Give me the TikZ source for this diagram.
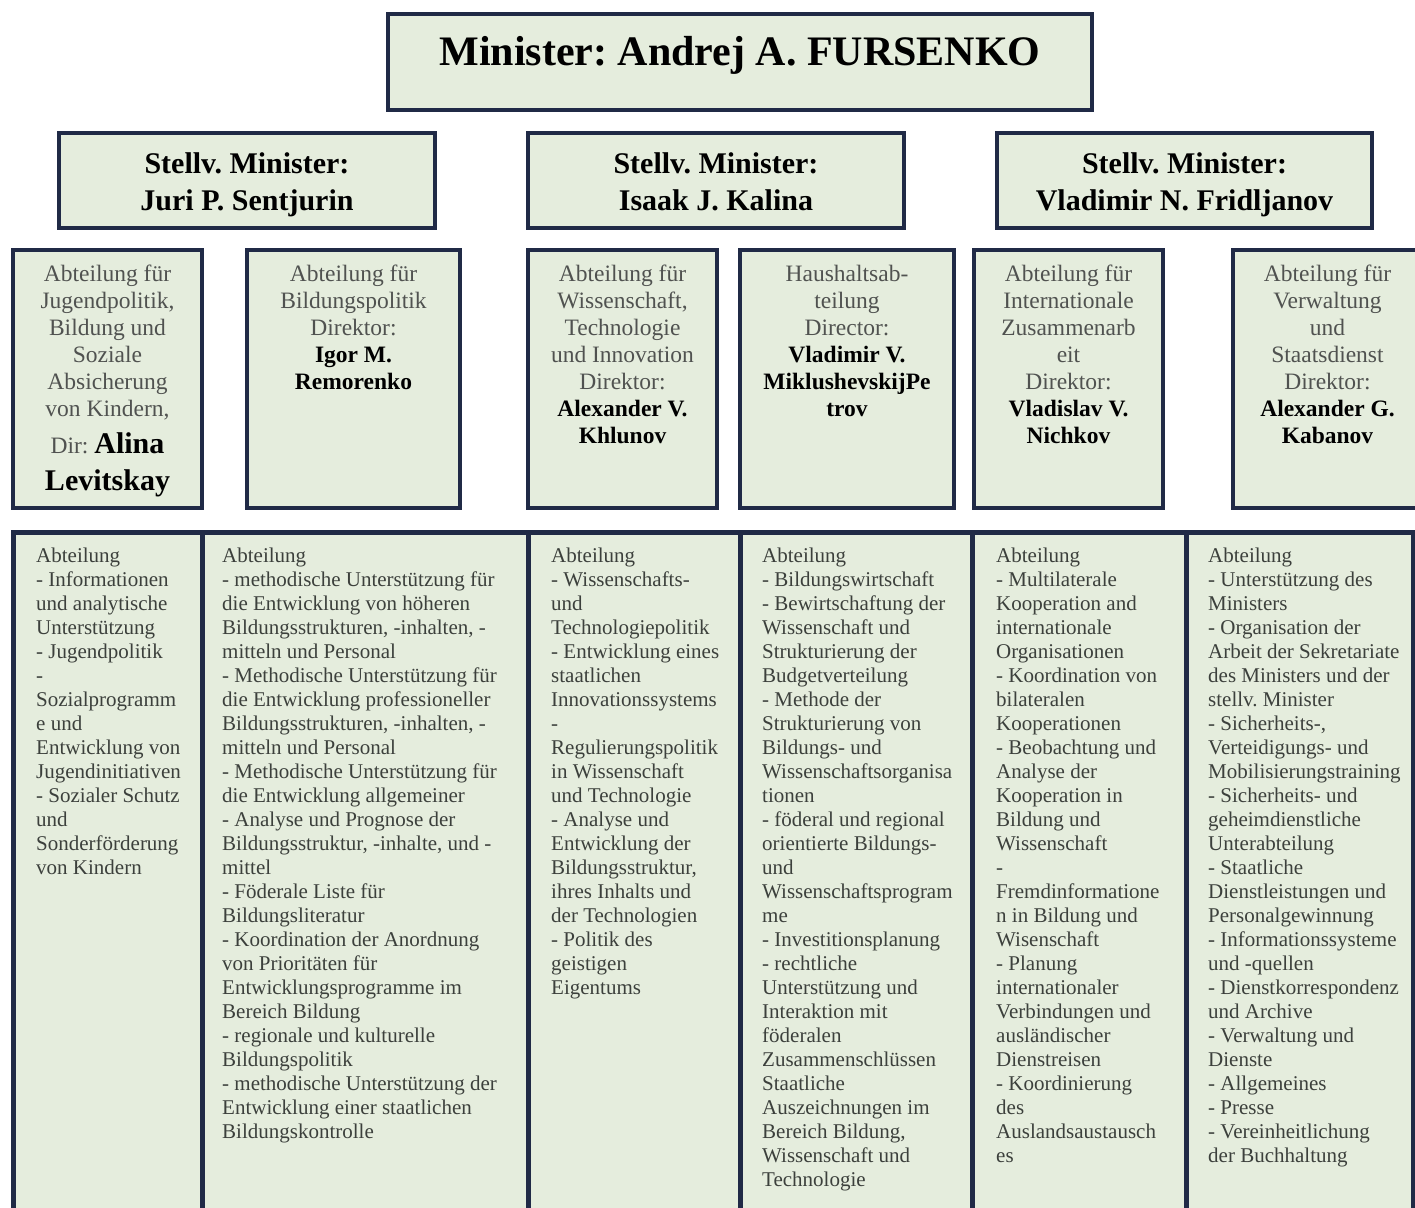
\documentclass[tikz,border=0pt]{standalone}
\usepackage{fontspec}
\setmainfont{Liberation Serif}
\definecolor{navy}{RGB}{32,42,70}
\definecolor{boxfill}{RGB}{229,237,221}
\definecolor{txtgray}{RGB}{80,82,80}
\definecolor{tabtxt}{RGB}{60,64,60}
\newcommand\boldname[1]{{\bfseries\color{black}#1}}
\tikzset{
  box/.style={draw=navy, line width=4.5pt, fill=boxfill, rectangle, inner sep=0pt, outer sep=0pt},
  cellbox/.style={draw=navy, line width=5pt, fill=boxfill, rectangle, inner sep=0pt, outer sep=0pt},
  mintxt/.style={font=\bfseries\fontsize{42}{48}\selectfont, inner sep=0pt, text=black},
  stelltxt/.style={align=center, inner sep=0pt, text=black, font=\bfseries\fontsize{30}{37}\selectfont},
  deptxt/.style={align=center, inner sep=0pt, text=txtgray, font=\fontsize{23.5}{27}\selectfont},
  tabletxt/.style={align=left, inner sep=0pt, text=tabtxt, font=\fontsize{21}{24}\selectfont, anchor=north west},
}
\begin{document}
\frenchspacing
\begin{tikzpicture}[x=1pt,y=-1pt]
\useasboundingbox (0,0) rectangle (1415,1207);
\clip (0,0) rectangle (1415,1207);
\fill[white] (0,0) rectangle (1415,1207);

% Minister
\node[box, minimum width=704, minimum height=96] (min) at (740,62) {};
\node[mintxt, anchor=base] (mint) at (740,66) {Minister: Andrej A. FURSENKO};

% Deputy ministers
\node[box, minimum width=376, minimum height=95] (s1) at (247,180.5) {};
\node[box, minimum width=376, minimum height=95] (s2) at (716,180.5) {};
\node[box, minimum width=375, minimum height=95] (s3) at (1184.5,180.5) {};
\node[stelltxt, anchor=north] (s1t) at (247,152) {Stellv. Minister:\\Juri P. Sentjurin};
\node[stelltxt, anchor=north] (s2t) at (716,152) {Stellv. Minister:\\Isaak J. Kalina};
\node[stelltxt, anchor=north] (s3t) at (1184.5,152) {Stellv. Minister:\\Vladimir N. Fridljanov};

% Departments
\node[box, minimum width=189, minimum height=258] (d1) at (107.5,379) {};
\node[box, minimum width=213, minimum height=258] (d2) at (353.5,379) {};
\node[box, minimum width=189, minimum height=258] (d3) at (622.5,379) {};
\node[box, minimum width=214, minimum height=258] (d4) at (847,379) {};
\node[box, minimum width=189, minimum height=258] (d5) at (1068.5,379) {};
\node[box, minimum width=189, minimum height=258] (d6) at (1327.5,379) {};

\node[deptxt, anchor=north] (d1t) at (107.5,265) {Abteilung für\\Jugendpolitik,\\Bildung und\\Soziale\\Absicherung\\von Kindern,\\[10pt]Dir: {\fontsize{30}{30}\selectfont\boldname{Alina}}\\[10pt]{\fontsize{30}{30}\selectfont\boldname{Levitskay}}};
\node[deptxt, anchor=north] (d2t) at (353.5,265) {Abteilung für\\Bildungspolitik\\Direktor:\\\boldname{Igor M.}\\\boldname{Remorenko}};
\node[deptxt, anchor=north] (d3t) at (622.5,265) {Abteilung für\\Wissenschaft,\\Technologie\\und Innovation\\Direktor:\\\boldname{Alexander V.}\\\boldname{Khlunov}};
\node[deptxt, anchor=north] (d4t) at (847,265) {Haushaltsab-\\teilung\\Director:\\\boldname{Vladimir V.}\\\boldname{MiklushevskijPe}\\\boldname{trov}};
\node[deptxt, anchor=north] (d5t) at (1068.5,265) {Abteilung für\\Internationale\\Zusammenarb\\eit\\Direktor:\\\boldname{Vladislav V.}\\\boldname{Nichkov}};
\node[deptxt, anchor=north] (d6t) at (1327.5,265) {Abteilung für\\Verwaltung\\und\\Staatsdienst\\Direktor:\\\boldname{Alexander G.}\\\boldname{Kabanov}};

% Table of sub-units
\node[cellbox, minimum width=189, minimum height=708] (c1) at (107.5,886) {};
\node[cellbox, minimum width=326, minimum height=708] (c2) at (365,886) {};
\node[cellbox, minimum width=212, minimum height=708] (c3) at (634,886) {};
\node[cellbox, minimum width=232, minimum height=708] (c4) at (856,886) {};
\node[cellbox, minimum width=214, minimum height=708] (c5) at (1079,886) {};
\node[cellbox, minimum width=227, minimum height=708] (c6) at (1299.5,886) {};

\node[tabletxt] (c1t) at (36,548) {Abteilung\\- Informationen\\und analytische\\Unterstützung\\- Jugendpolitik\\-\\Sozialprogramm\\e und\\Entwicklung von\\Jugendinitiativen\\- Sozialer Schutz\\und\\Sonderförderung\\von Kindern};
\node[tabletxt] (c2t) at (222,548) {Abteilung\\- methodische Unterstützung für\\die Entwicklung von höheren\\Bildungsstrukturen, -inhalten, -\\mitteln und Personal\\- Methodische Unterstützung für\\die Entwicklung professioneller\\Bildungsstrukturen, -inhalten, -\\mitteln und Personal\\- Methodische Unterstützung für\\die Entwicklung allgemeiner\\- Analyse und Prognose der\\Bildungsstruktur, -inhalte, und -\\mittel\\- Föderale Liste für\\Bildungsliteratur\\- Koordination der Anordnung\\von Prioritäten für\\Entwicklungsprogramme im\\Bereich Bildung\\- regionale und kulturelle\\Bildungspolitik\\- methodische Unterstützung der\\Entwicklung einer staatlichen\\Bildungskontrolle};
\node[tabletxt] (c3t) at (551,548) {Abteilung\\- Wissenschafts-\\und\\Technologiepolitik\\- Entwicklung eines\\staatlichen\\Innovationssystems\\-\\Regulierungspolitik\\in Wissenschaft\\und Technologie\\- Analyse und\\Entwicklung der\\Bildungsstruktur,\\ihres Inhalts und\\der Technologien\\- Politik des\\geistigen\\Eigentums};
\node[tabletxt] (c4t) at (762,548) {Abteilung\\- Bildungswirtschaft\\- Bewirtschaftung der\\Wissenschaft und\\Strukturierung der\\Budgetverteilung\\- Methode der\\Strukturierung von\\Bildungs- und\\Wissenschaftsorganisa\\tionen\\- föderal und regional\\orientierte Bildungs-\\und\\Wissenschaftsprogram\\me\\- Investitionsplanung\\- rechtliche\\Unterstützung und\\Interaktion mit\\föderalen\\Zusammenschlüssen\\Staatliche\\Auszeichnungen im\\Bereich Bildung,\\Wissenschaft und\\Technologie};
\node[tabletxt] (c5t) at (996,548) {Abteilung\\- Multilaterale\\Kooperation and\\internationale\\Organisationen\\- Koordination von\\bilateralen\\Kooperationen\\- Beobachtung und\\Analyse der\\Kooperation in\\Bildung und\\Wissenschaft\\-\\Fremdinformatione\\n in Bildung und\\Wisenschaft\\- Planung\\internationaler\\Verbindungen und\\ausländischer\\Dienstreisen\\- Koordinierung\\des\\Auslandsaustausch\\es};
\node[tabletxt] (c6t) at (1208,548) {Abteilung\\- Unterstützung des\\Ministers\\- Organisation der\\Arbeit der Sekretariate\\des Ministers und der\\stellv. Minister\\- Sicherheits-,\\Verteidigungs- und\\Mobilisierungstraining\\- Sicherheits- und\\geheimdienstliche\\Unterabteilung\\- Staatliche\\Dienstleistungen und\\Personalgewinnung\\- Informationssysteme\\und -quellen\\- Dienstkorrespondenz\\und Archive\\- Verwaltung und\\Dienste\\- Allgemeines\\- Presse\\- Vereinheitlichung\\der Buchhaltung};
\end{tikzpicture}
\end{document}
